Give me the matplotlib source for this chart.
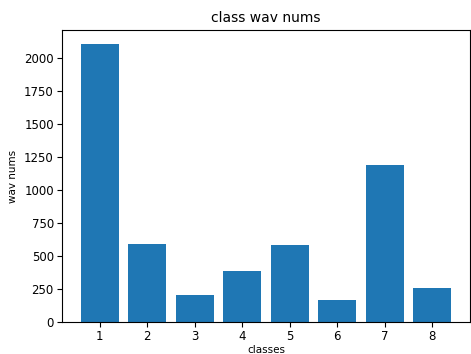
import matplotlib
matplotlib.use("Agg")
import matplotlib.pyplot as plt

# class counts
classes = [1, 2, 3, 4, 5, 6, 7, 8]
wav_nums = [2110, 593, 204, 386, 583, 169, 1189, 260]

fig = plt.figure(figsize=(4.71, 3.54), dpi=100)
ax = plt.gca()
plt.bar(classes, wav_nums)
plt.title("class wav nums", fontsize=10)
plt.xlabel("classes", fontsize=7.5)
plt.ylabel("wav nums", fontsize=7.5)
ax.tick_params(labelsize=8.5, pad=2.5)
ax.xaxis.set_label_coords(0.5, -0.078)
ax.yaxis.set_label_coords(-0.108, 0.5)
plt.subplots_adjust(left=0.132, right=0.997, top=0.915, bottom=0.09)
plt.savefig("out.png")
